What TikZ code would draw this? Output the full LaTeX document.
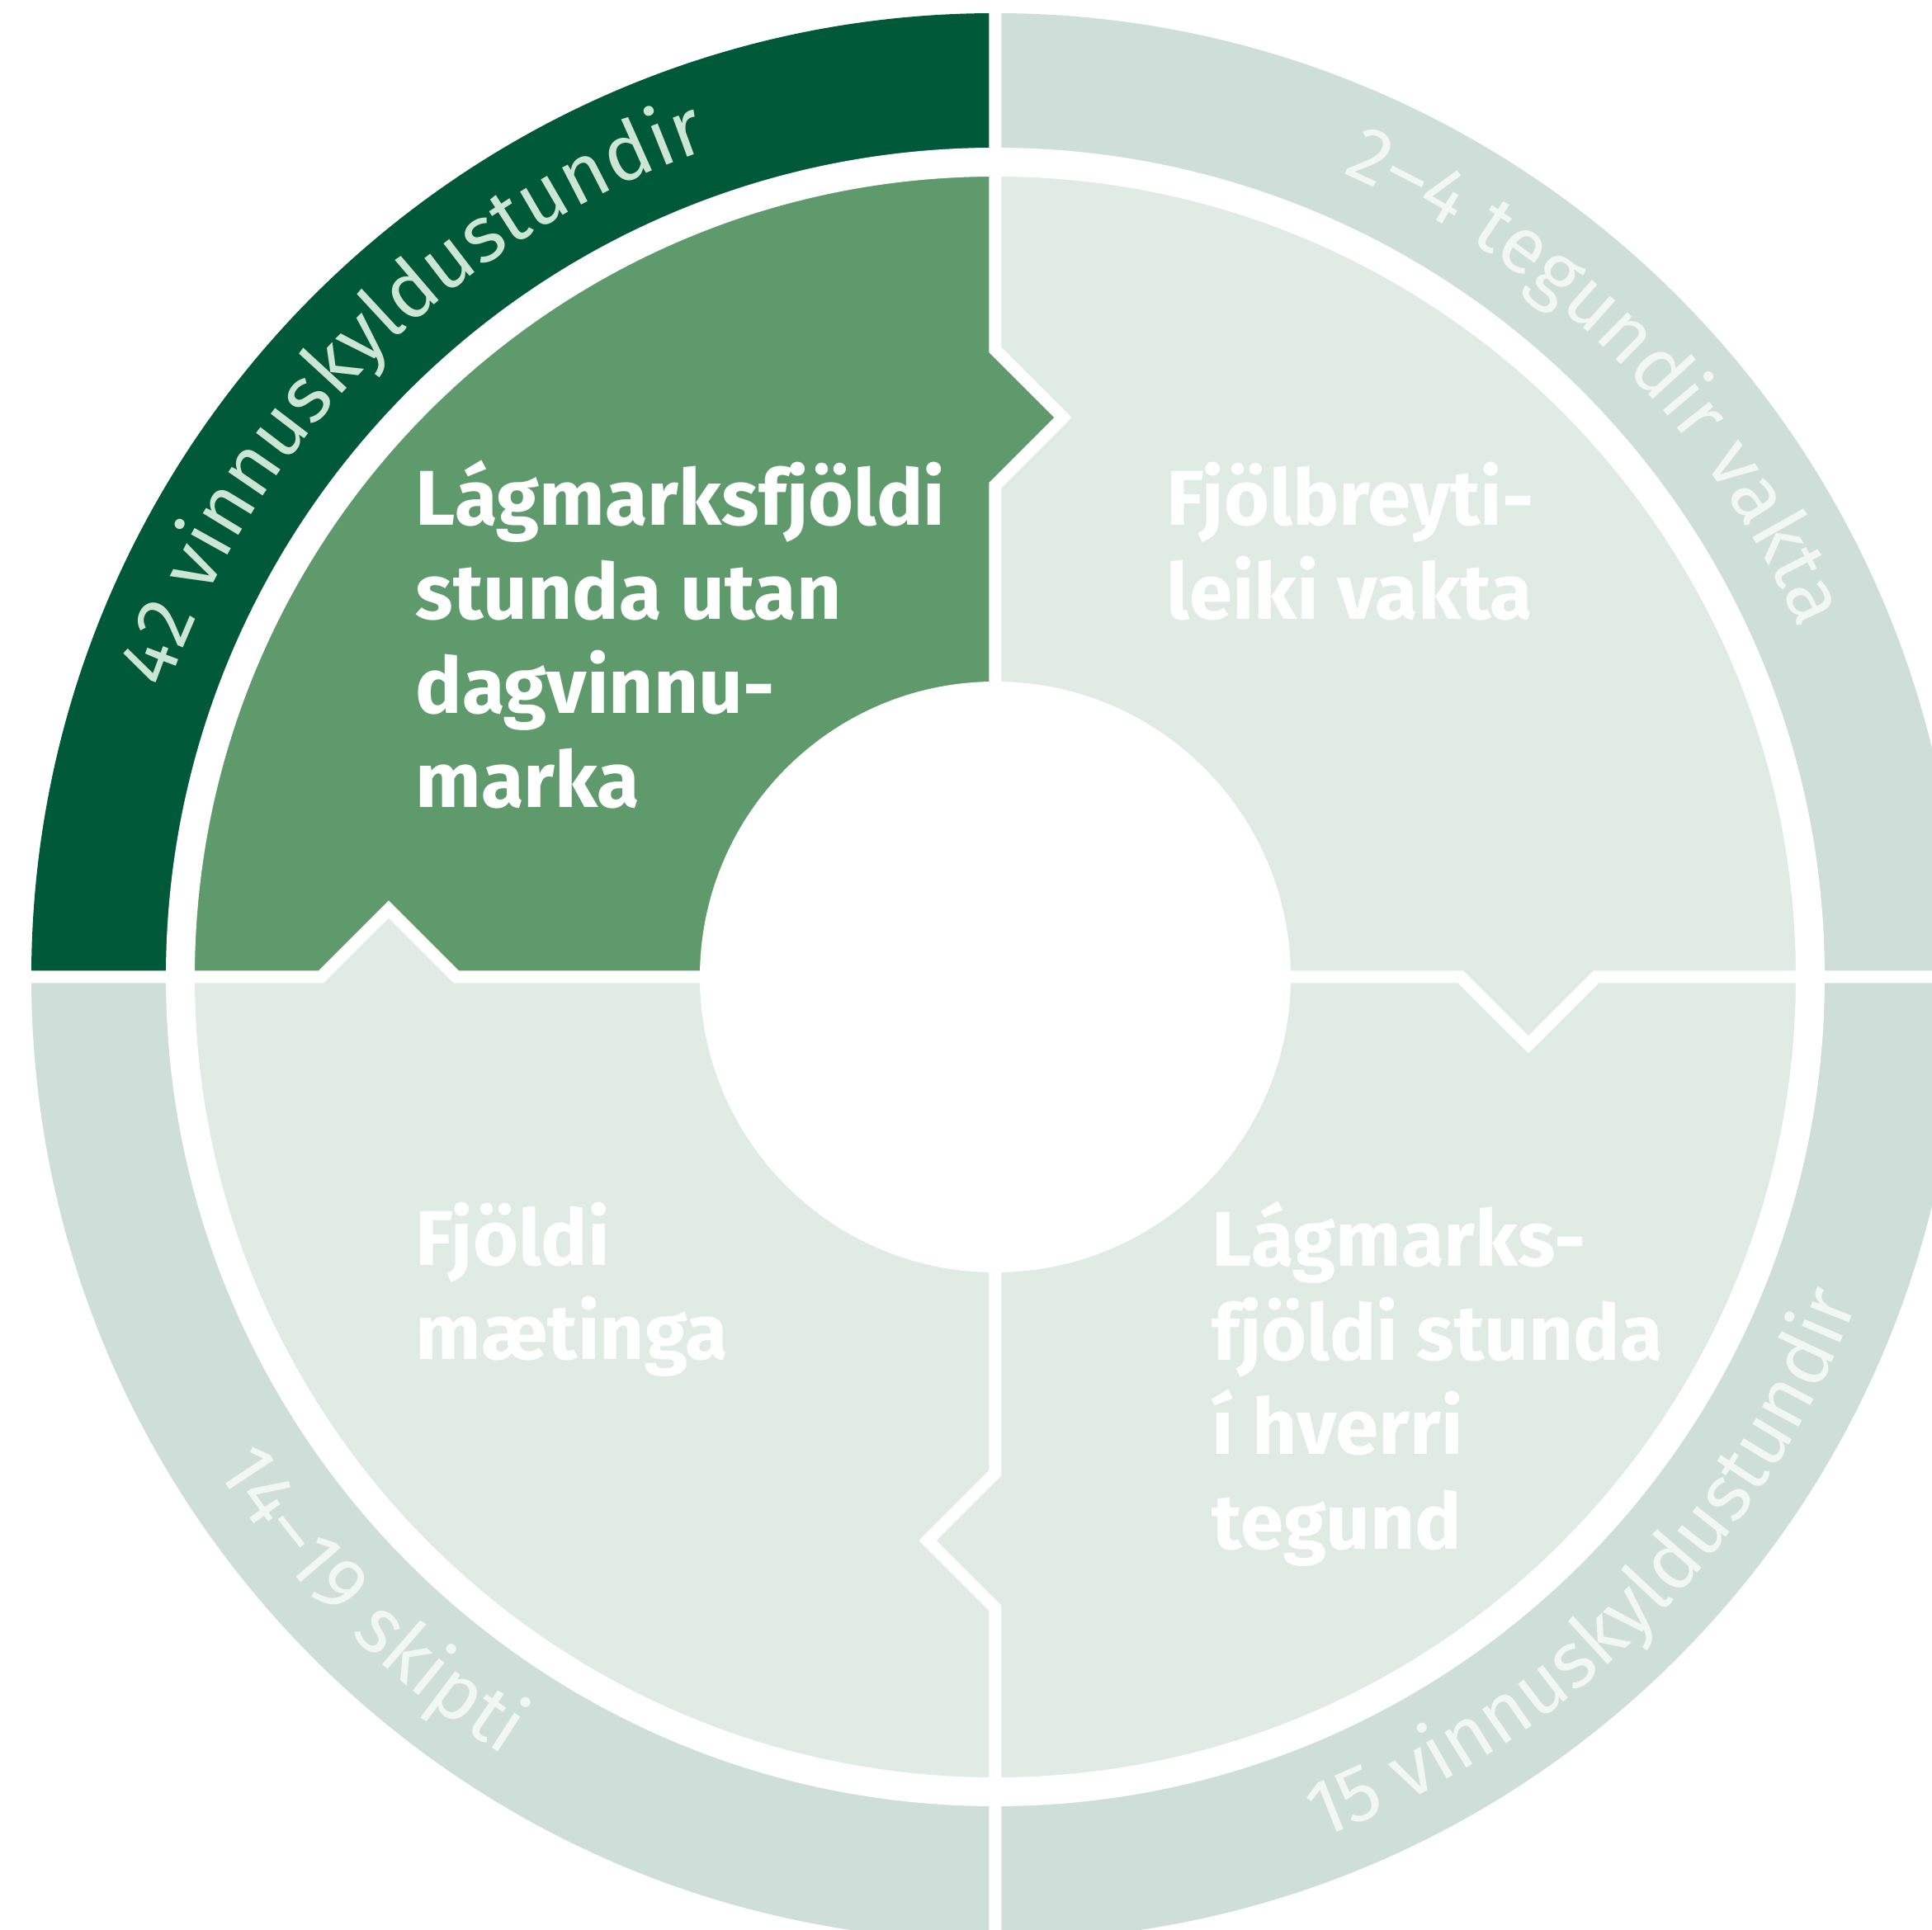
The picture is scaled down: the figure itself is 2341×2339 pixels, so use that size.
\documentclass[tikz,border=0pt]{standalone}
\usepackage{fontspec}
\setmainfont{Fira Sans}
\usepackage{tikz}
\usetikzlibrary{decorations.text}
\definecolor{darkgreen}{HTML}{005A3A}
\definecolor{midgreen}{HTML}{5F9A6C}
\definecolor{ringgrey}{HTML}{CDDFD8}
\definecolor{fieldgrey}{HTML}{E0EBE3}
\definecolor{ringtext}{HTML}{CDE5D3}
\definecolor{paletext}{HTML}{F2F7F3}
\newcommand{\ringsize}{\mdseries\fontsize{27.2}{30}\selectfont}

\begin{document}
\begin{tikzpicture}[x=0.1mm,y=0.1mm,line join=miter]
	\tikzstyle{quad}=[anchor=base west, align=left, inner sep=0pt, text=white, font=\bfseries\fontsize{26.8}{32.45}\selectfont]
	\tikzstyle{gap}=[draw=white, line width=1.5mm]
	\tikzstyle{ring}=[decorate, decoration={text along path, text align=center}]
	
	\useasboundingbox[fill=white] (-1206,-1155) rectangle (1135,1184);
	
	\fill[darkgreen] (0,0) -- (180:1168) arc[start angle=180, end angle=90, radius=1168] -- cycle;
	\fill[ringgrey] (0,0) -- (90:1168) arc[start angle=90, end angle=-180, radius=1168] -- cycle;
	\fill[fieldgrey] (0,0) circle[radius=988];
	\fill[midgreen] (0,0) -- (180:988) arc[start angle=180, end angle=90, radius=988] -- cycle;
	\draw[white, line width=3.5mm] (0,0) circle[radius=987.5];
	
	\fill[midgreen] (0,760) -- (82,678) -- (0,596) -- cycle;
	\fill[fieldgrey] (-817,0) -- (-735,82) -- (-653,0) -- cycle;
	
	\draw[gap] (0,0) -- (0,596) -- (82,678) -- (0,760) -- (0,1200);
	\draw[gap] (0,0) -- (-653,0) -- (-735,82) -- (-817,0) -- (-1200,0);
	\draw[gap] (0,0) -- (564,0) -- (646,-82) -- (728,0) -- (1200,0);
	\draw[gap] (0,0) -- (0,-601) -- (-82,-683) -- (0,-765) -- (0,-1200);
	\fill[white] (0,0) circle[radius=358];
	
	\node[quad] (1) at (-703,205) {Lágmarksfjöldi\\stunda utan\\dagvinnu-\\marka};
	\node[quad] (2) at (207,433) {Fjölbreyti-\\leiki vakta};
	\node[quad] (3) at (262,-693) {Lágmarks-\\fjöldi stunda\\í hverri\\tegund};
	\node[quad] (4) at (-703,-464) {Fjöldi\\mætinga};
	
	\path[ring, decoration={text color=ringtext, text={|\ringsize|42 vinnuskyldustundir}}] (180:1061) arc[start angle=180, end angle=90, radius=1061];
	\path[ring, decoration={text color=paletext, text={|\ringsize|2–4 tegundir vakta}}] (90:1061) arc[start angle=90, end angle=0, radius=1061];
	\path[ring, decoration={text color=paletext, text={|\ringsize|14–19 skipti}}] (180:1116) arc[start angle=180, end angle=270, radius=1116];
	\path[ring, decoration={text color=paletext, text={|\ringsize|15 vinnuskyldustundir}}] (270:1116) arc[start angle=270, end angle=360, radius=1116];
	
\end{tikzpicture}
\end{document}
